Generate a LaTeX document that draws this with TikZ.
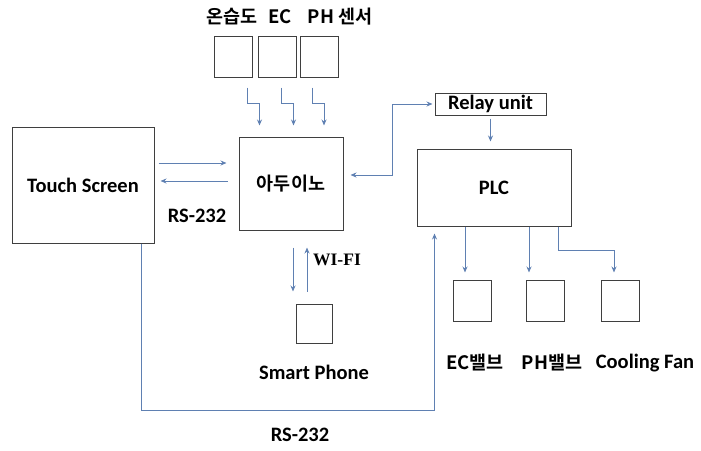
\documentclass[tikz,border=0pt]{standalone}
\usepackage{fontspec}
\setmainfont{Carlito}
\newfontfamily\kr{Noto Sans CJK KR}[BoldFont={Noto Sans CJK KR Bold}]
\newfontfamily\serifbf{Liberation Serif}
\usetikzlibrary{positioning,arrows.meta,calc}
\definecolor{ink}  {HTML}{3F3F3F}
\definecolor{wire} {HTML}{5F80B2}
\tikzset{
  >={Stealth[length=6pt,width=5pt]},
  every node/.style={font=\bfseries\fontsize{20.5}{24}\selectfont},
  % --- nodes
  blk/.style  = {draw=ink, line width=1pt, inner sep=0pt, align=center},
  unit/.style = {blk, minimum width=38pt, minimum height=41pt},
  txt/.style  = {inner sep=1pt},
  hw/.style   = {txt, font=\kr\bfseries\fontsize{18.5}{22}\selectfont},
  % --- edges
  e/.style    = {->, draw=wire, line width=1pt},
}
\begin{document}
\begin{tikzpicture}[x=1pt,y=-1pt]
  \useasboundingbox (0,0) rectangle (701,450);

  % main blocks
  \node[blk, minimum width=142pt, minimum height=116pt] (ts)  at (83,185)     {Touch Screen};
  \node[blk, minimum width=104pt, minimum height=93pt, font=\kr\bfseries\fontsize{18.5}{22}\selectfont]
                                                        (ard) at (291,183.5)  {아두이노};
  \node[blk, minimum width=111pt, minimum height=22pt]  (rly) at (490.5,104)  {Relay unit};
  \node[blk, minimum width=154pt, minimum height=77pt]  (plc) at (494,187.5)  {PLC};
  \node[unit, minimum width=36pt, minimum height=39pt]  (ph)  at (314,323.5)  {};

  % sensors on top
  \foreach \n/\x in {s1/233.5, s2/277.5, s3/319} {
    \node[unit] (\n) at (\x,56.5) {};
  }
  \node[hw] (s1t) at (232,17) {온습도};
  \node[hw] (s2t) at (280,17) {EC};
  \node[hw] (s3t) at (340,17) {PH 센서};

  % outputs of the PLC
  \foreach \n/\x in {o1/472, o2/545.5, o3/620} {
    \node[unit] (\n) at (\x,300.5) {};
  }
  \node[hw] (o1t) at (475,363) {EC밸브};
  \node[hw] (o2t) at (552,363) {PH밸브};
  \node[txt] (o3t) at (645,363) {Cooling Fan};

  % labels
  \node[txt] (rsa) at (197,216) {RS-232};
  \node[txt] (rsb) at (300,435) {RS-232};
  \node[txt, font=\serifbf\bfseries\fontsize{17.5}{20}\selectfont] (wifi) at (337,260) {WI-FI};
  \node[txt, below=20pt of ph] (pht) {Smart Phone};

  % sensors -> arduino
  \foreach \s/\dx in {s1/14, s2/4, s3/-7} {
    \draw[e] ($(\s.south)+(\dx,10)$) -- ++(0,16) -- ++(12,0) -- ++(0,22);
  }

  % touch screen <-> arduino
  \draw[e, shorten <=4pt, shorten >=12pt] ([yshift=22pt]ts.east) -- ([yshift=20.5pt]ard.west);
  \draw[e, shorten <=11pt, shorten >=6pt] ([yshift=2.5pt]ard.west) -- ([yshift=4pt]ts.east);

  % arduino <-> relay unit -> plc
  \draw[e, <->, shorten <=7pt, shorten >=2pt] ([yshift=8.5pt]ard.east) -| ($(rly.west)+(-42,0)$) -- (rly.west);
  \draw[e, shorten <=3pt, shorten >=7pt] (rly.south) -- (rly.south |- plc.north);

  % wi-fi
  \draw[e, shorten <=17pt, shorten >=12pt] ($(ard.south)+(2,0)$) -- ($(ph.north)+(-21,0)$);
  \draw[e, shorten <=12pt, shorten >=17pt] ($(ph.north)+(-7,0)$) -- ($(ard.south)+(16,0)$);

  % plc -> outputs
  \foreach \o/\dx in {o1/-7, o2/-16.5} {
    \coordinate (\o in) at ($(\o.north)+(\dx,-7)$);
    \draw[e] (\o in |- plc.south) -- (\o in);
  }
  \coordinate (o3in) at ($(o3.north)+(-6,-7)$);
  \draw[e] ($(plc.south east)+(-13,0)$) -- ++(0,24) -| (o3in);

  % touch screen -> plc (rs-232)
  \draw[e, shorten >=7pt] ($(ts.south east)+(-13,0)$) -- ++(0,167) -| ($(plc.south west)+(18,0)$);
\end{tikzpicture}
\end{document}
